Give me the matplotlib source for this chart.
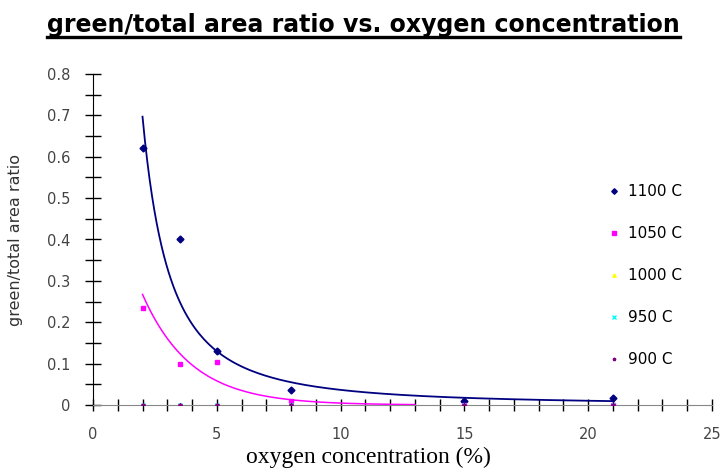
import numpy as np
import matplotlib
matplotlib.use('Agg')
import matplotlib.pyplot as plt
from matplotlib.lines import Line2D
from matplotlib.ticker import MultipleLocator

# data
oxygen = [2, 3.5, 5, 8, 15, 21]
ratio_1100 = [0.62, 0.40, 0.13, 0.037, 0.01, 0.017]
ratio_1050 = [0.235, 0.10, 0.105, 0.01, 0.0, 0.0]
ratio_1000 = [0, 0, 0, 0, 0, 0]
ratio_950 = [0, 0, 0, 0, 0, 0]
ratio_900 = [0, 0, 0, 0, 0, 0]
labels = ['1100 C', '1050 C', '1000 C', '950 C', '900 C']

fig = plt.figure(figsize=(7.23, 4.73), dpi=100)
ax = fig.add_axes([93/723, 1-405/473, (712-93)/723, (405-74)/473])

# trendlines like excel: power fit for 1100 C, exponential fit for 1050 C
x = np.array(oxygen)
y = np.array(ratio_1100)
b, lna = np.polyfit(np.log(x), np.log(y), 1)
xs = np.linspace(2, 21, 200)
ax.plot(xs, np.exp(lna) * xs**b, color='#000080', lw=1.3, zorder=3)

x2 = np.array(oxygen[:4])
y2 = np.array(ratio_1050[:4])
b2, lna2 = np.polyfit(x2, np.log(y2), 1)
xs2 = np.linspace(2, 13, 200)
ax.plot(xs2, np.exp(lna2) * np.exp(b2 * xs2), color='#ff00ff', lw=1.1, zorder=3)

# data points
ax.plot(oxygen, ratio_1100, 'D', color='#000080', ms=3.5, ls='none', label=labels[0], zorder=4)
ax.plot(oxygen, ratio_1050, 's', color='#ff00ff', ms=3.5, ls='none', label=labels[1], zorder=4)
ax.plot(oxygen, ratio_1000, '^', color='#ffff00', ms=3, ls='none', label=labels[2], zorder=4)
ax.plot(oxygen, ratio_950, 'x', color='#00ffff', ms=3, ls='none', label=labels[3], zorder=4)
ax.plot(oxygen, ratio_900, '*', color='#800080', ms=3, ls='none', label=labels[4], zorder=4)

ax.set_xlim(0, 25)
ax.set_ylim(0, 0.8)
ax.xaxis.set_major_locator(MultipleLocator(5))
ax.xaxis.set_minor_locator(MultipleLocator(1))
ax.yaxis.set_minor_locator(MultipleLocator(0.05))
ax.set_yticks(np.arange(0, 0.81, 0.1))
ax.set_yticklabels(['0', '0.1', '0.2', '0.3', '0.4', '0.5', '0.6', '0.7', '0.8'])

for s in ['top', 'right']:
    ax.spines[s].set_visible(False)
ax.spines['left'].set_color('black')
ax.spines['bottom'].set_color('#888888')
ax.tick_params(axis='x', which='both', direction='inout', length=9, width=1, color='black',
               labelsize=10.5, labelcolor='#444444', pad=11)
ax.tick_params(axis='y', which='both', direction='inout', length=11, width=1, color='black',
               labelsize=10.5, labelcolor='#444444', pad=11)

ax.set_xlabel('oxygen concentration (%)', family='Liberation Serif', fontsize=17)
ax.xaxis.set_label_coords((368-93)/(712-93), -0.125)
ax.set_ylabel('green/total area ratio', fontsize=11.5, color='#333333')
ax.yaxis.set_label_coords(-0.113, 0.5)

ax.legend(loc='center left', bbox_to_anchor=(0.82, 0.39), frameon=False, fontsize=11,
          handlelength=0.8, handletextpad=0.5, labelspacing=1.77, borderpad=0, markerscale=0.8)

title = fig.text(0.503, 1-32/473, 'green/total area ratio vs. oxygen concentration',
                 ha='center', va='baseline', family='DejaVu Sans', weight='bold', fontsize=17)

# underline the title
fig.canvas.draw()
bb = title.get_window_extent().transformed(fig.transFigure.inverted())
fig.add_artist(Line2D([bb.x0, bb.x1], [1-37.5/473, 1-37.5/473], color='black', lw=2.4,
                      transform=fig.transFigure))

fig.savefig('out.png', dpi=100)
